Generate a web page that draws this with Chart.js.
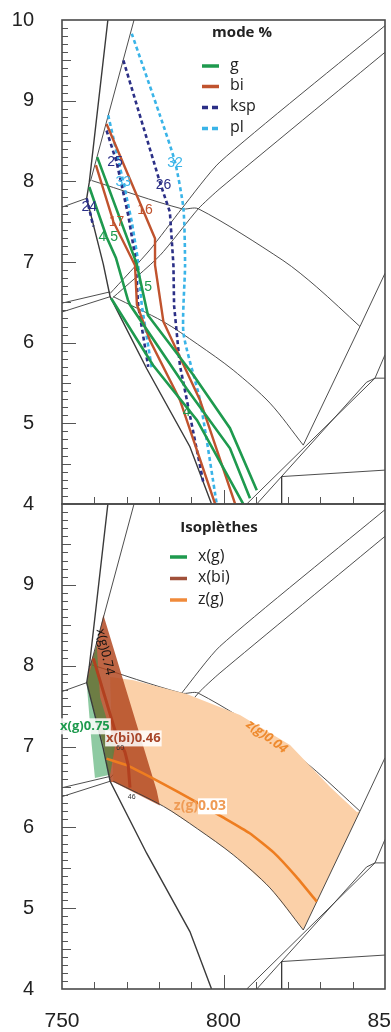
<!DOCTYPE html>
<html>
<head>
<meta charset="utf-8">
<script src="https://cdn.jsdelivr.net/npm/chart.js@4.4.1/dist/chart.umd.min.js"></script>
<style>
html, body { margin: 0; padding: 0; background: #fff; }
#wrap { position: relative; width: 391px; height: 1032px; overflow: hidden; }
#boxTop { position: absolute; left: 0; top: 0; width: 391px; height: 525px; }
#boxBot { position: absolute; left: 0; top: 494px; width: 391px; height: 538px; }
</style>
</head>
<body>
<div id="wrap">
  <div id="boxTop"><canvas id="chartTop"></canvas></div>
  <div id="boxBot"><canvas id="chartBot"></canvas></div>
</div>
<script>
// axes
const T_MIN = 750, T_MAX = 850;
const P_MIN = 4, P_MAX = 10;
const xTickLabels = [750, 800, 850];
const xMinorTicks = [760, 770, 780, 790, 800, 810, 820, 830, 840];

// phase boundaries  [T, P]
const bndA = [[764.2, 10], [758.45, 7.99], [757.65, 7.79], [762.8, 6.97], [764.9, 6.57], [776.2, 5.68], [789.6, 4.71], [796.3, 4.0]];
const bndB = [[772.3, 10], [758.8, 8.0]];
const bndC = [[759.2, 8.01], [787.05, 7.66], [792.2, 7.66], [818.4, 7.02], [828.85, 6.69], [842.25, 6.2]];
const bndD = [[750, 7.68], [757.65, 7.79]];
const bndE1 = [[850, 9.93], [798.9, 8.24], [787.05, 7.66], [777.2, 7.15], [764.9, 6.61]];
const bndE2 = [[850, 9.6], [798.9, 7.91], [792.2, 7.66], [780.3, 7.08], [765.8, 6.56]];
const bndF = [[850, 6.86], [842.25, 6.2], [824.7, 4.73]];
const bndG = [[765.9, 6.57], [781.4, 6.26], [792.0, 5.98], [803.0, 5.66], [814.4, 5.25], [824.7, 4.73]];
const bndH1 = [[850, 5.85], [846.9, 5.56], [807.2, 4.0]];
const bndH2 = [[850, 5.56], [846.9, 5.56], [844.3, 5.51], [810.3, 4.0]];
const bndI = [[850, 4.42], [818, 4.34], [818, 4.0]];
const bndL1 = [[750, 6.49], [764.9, 6.63]];
const bndL2 = [[750, 6.38], [764.9, 6.57]];

// mode % isopleths (top panel)
const gIso4 = [[765.2, 6.55], [778.2, 5.72], [791.8, 5.04], [806.1, 4.0]];
const gIso45 = [[758.45, 7.93], [763.8, 7.31], [766.7, 7.05], [770.4, 6.53], [771.05, 6.47], [788.6, 5.43], [802.0, 4.69], [808.2, 4.07]];
const gIso5 = [[760.9, 8.30], [773.1, 6.98], [776.6, 6.34], [790.65, 5.60], [802.0, 4.94], [810.3, 4.17]];
const biIso17 = [[760.5, 8.20], [765.9, 7.50], [772.6, 6.96], [773.2, 6.47], [777.2, 6.03], [786.5, 5.29], [797.4, 4.0]];
const biIso16 = [[763.8, 8.71], [778.8, 7.29], [778.8, 6.96], [781.4, 6.26], [792.7, 5.29], [803.6, 4.0]];
const kspIso24 = [[757.65, 7.79], [759.7, 7.44]];
const kspIso25 = [[763.8, 8.63], [766.9, 8.24], [770.5, 7.58], [772.6, 7.08], [773.6, 6.46], [776.7, 5.70]];
const kspIso26 = [[769.0, 9.50], [780.3, 7.99], [783.4, 7.62], [784.5, 6.96], [784.7, 6.46], [786.5, 5.72], [793.7, 4.28]];
const plIso33 = [[764.3, 8.82], [769.0, 7.99], [771.6, 7.50], [773.3, 7.08], [774.7, 6.46], [777.8, 5.68]];
const plIso32 = [[771.6, 9.83], [780.3, 8.82], [785.0, 8.24], [787.6, 7.66], [788.1, 6.96], [787.6, 6.12], [792.7, 5.29], [797.9, 4.0]];
const modeLabels = [
  ['25', 766.4, 8.24, 'ksp'], ['33', 769.0, 7.99, 'pl'], ['26', 781.4, 7.95, 'ksp'], ['32', 785.0, 8.22, 'pl'],
  ['24', 758.45, 7.68, 'ksp'], ['17', 766.9, 7.50, 'bi'], ['16', 775.7, 7.64, 'bi'], ['4.5', 764.3, 7.31, 'g'],
  ['5', 776.7, 6.69, 'g'], ['4', 788.6, 5.14, 'g']
];

// compositional isopleths (bottom panel)
const xgArea = [[760.74, 8.26], [757.65, 7.78], [759.2, 7.02], [760.2, 6.61], [764.9, 6.65], [766.4, 7.0], [761.8, 7.61], [760.74, 8.26]];
const xbiArea = [[762.8, 8.63], [779.3, 6.46], [780.3, 6.27], [765.9, 6.56], [764.9, 6.56], [762.8, 7.02], [757.65, 7.78], [758.45, 7.99], [760.7, 8.25], [762.8, 8.63]];
const zgArea = [[764.9, 7.86], [772.1, 7.82], [788.6, 7.65], [805.1, 7.39], [820.6, 7.02], [833.0, 6.50], [841.3, 6.19], [842.25, 6.2],
  [824.7, 4.73], [814.4, 5.25], [803.0, 5.66], [792.0, 5.98], [781.4, 6.26], [765.9, 6.57], [764.9, 7.86]];
const xbiLine = [[759.7, 8.09], [766.4, 7.20], [769.5, 6.93], [770.5, 6.77], [771.05, 6.49]];
const zgLine = [[763.8, 6.85], [770.0, 6.77], [780.3, 6.56], [791.2, 6.32], [800.0, 6.12], [808.0, 5.93], [815.5, 5.69], [822.5, 5.39], [828.9, 5.08]];
const isoLabels = [
  ['x(g)0.75', 757.1, 7.25, 'xg'], ['x(bi)0.46', 772.1, 7.10, 'xbi'], ['x(g)0.74', 763.3, 8.17, 'xg74'],
  ['z(g)0.04', 813.4, 7.12, 'zg04'], ['z(g)0.03', 792.7, 6.26, 'zg03'], ['60', 768.0, 6.98, 'tiny'], ['46', 771.6, 6.38, 'tiny']
];

const COL = { g: '#1e9a4e', bi: '#c0532e', ksp: '#2b2f86', pl: '#3ab4e8', bnd: '#3a3a3a' };

function toXY(pts) {
    return pts.map(p => ({ x: p[0], y: p[1] }));
}

function ligne(pts, color, width, dash, order, tension) {
    return {
        data: toXY(pts), showLine: true, borderColor: color, borderWidth: width,
        borderDash: dash || [], pointRadius: 0, fill: false, order: order, tension: tension || 0
    };
}

function zone(pts, color, order) {
    return {
        data: toXY(pts), showLine: true, borderWidth: 0, borderColor: 'rgba(0,0,0,0)',
        backgroundColor: color, pointRadius: 0, fill: 'shape', order: order, tension: 0
    };
}

// =========================
// frame, inner ticks, texts
// =========================
const cadre = {
    id: 'cadre',
    afterDatasetsDraw(chart, args, opts) {
        const { ctx, chartArea: a, scales: { x, y } } = chart;
        ctx.save();
        ctx.strokeStyle = '#555';
        ctx.lineWidth = 1;
        for (let i = P_MIN * 10 + 1; i < P_MAX * 10; i++) {
            const py = Math.round(y.getPixelForValue(i / 10)) + 0.5;
            const len = i % 10 === 0 ? 14 : (i % 5 === 0 ? 9 : 6);
            ctx.beginPath();
            ctx.moveTo(a.left, py);
            ctx.lineTo(a.left + len, py);
            ctx.stroke();
        }
        xMinorTicks.forEach(v => {
            const px = Math.round(x.getPixelForValue(v)) + 0.5;
            const len = v % 50 === 0 ? 14 : 7;
            ctx.beginPath();
            ctx.moveTo(px, a.bottom);
            ctx.lineTo(px, a.bottom - len);
            ctx.stroke();
        });
        ctx.strokeStyle = '#4a4a4a';
        ctx.lineWidth = 1.6;
        ctx.strokeRect(a.left, a.top, a.right - a.left, a.bottom - a.top);
        ctx.restore();
    },
    afterDraw(chart, args, opts) {
        const { ctx, chartArea: a, scales: { x, y } } = chart;
        ctx.save();
        (opts.notes || []).forEach(n => opts.drawNote(ctx, n, x.getPixelForValue(n[1]), y.getPixelForValue(n[2])));
        if (opts.legend) opts.legend(ctx, a);
        if (opts.xLabels) {
            ctx.fillStyle = '#222';
            ctx.font = '21px "Liberation Sans", Arial, sans-serif';
            ctx.textAlign = 'center';
            ctx.textBaseline = 'middle';
            xTickLabels.forEach(v => ctx.fillText(String(v), x.getPixelForValue(v), a.bottom + 32));
        }
        ctx.restore();
    }
};

function dessinerModeLabel(ctx, n, px, py) {
    ctx.font = '14px "Liberation Sans", Arial, sans-serif';
    ctx.fillStyle = COL[n[3]];
    ctx.textAlign = 'center';
    ctx.textBaseline = 'middle';
    ctx.fillText(n[0], px, py);
}

function dessinerIsoLabel(ctx, n, px, py) {
    const kind = n[3];
    ctx.textAlign = 'center';
    ctx.textBaseline = 'middle';
    if (kind === 'xg' || kind === 'xbi') {
        ctx.font = 'bold 13px "Open Sans", "Liberation Sans", sans-serif';
        const w = ctx.measureText(n[0]).width;
        ctx.fillStyle = 'rgba(255,255,255,0.85)';
        ctx.fillRect(px - w / 2 - 1, py - 8, w + 2, 16);
        ctx.fillStyle = kind === 'xg' ? '#1e9a4e' : '#a8462a';
        ctx.fillText(n[0], px, py);
    } else if (kind === 'xg74') {
        ctx.translate(px, py);
        ctx.rotate(78 * Math.PI / 180);
        ctx.font = '13px "Open Sans", "Liberation Sans", sans-serif';
        ctx.fillStyle = '#111';
        ctx.fillText(n[0], 0, 0);
        ctx.setTransform(1, 0, 0, 1, 0, 0);
    } else if (kind === 'zg04') {
        ctx.translate(px, py);
        ctx.rotate(36 * Math.PI / 180);
        ctx.font = 'bold italic 13px "Open Sans", "Liberation Sans", sans-serif';
        ctx.fillStyle = '#ee8a2e';
        ctx.fillText(n[0], 0, 0);
        ctx.setTransform(1, 0, 0, 1, 0, 0);
    } else if (kind === 'zg03') {
        ctx.font = 'bold 14px "Open Sans", "Liberation Sans", sans-serif';
        const w = ctx.measureText(n[0]).width;
        const w1 = ctx.measureText('z(g)').width;
        ctx.fillStyle = '#fff';
        ctx.fillRect(px - w / 2 + w1, py - 8, w - w1 + 1, 16);
        ctx.fillStyle = '#ef9b55';
        ctx.fillText(n[0], px, py);
    } else {
        ctx.font = '7px "Liberation Sans", Arial, sans-serif';
        ctx.fillStyle = '#333';
        ctx.fillText(n[0], px, py);
    }
}

function legendeItem(ctx, x0, yy, color, dashed, text, font) {
    ctx.strokeStyle = color;
    ctx.lineWidth = 3.5;
    ctx.setLineDash(dashed ? [6, 4] : []);
    ctx.beginPath();
    ctx.moveTo(x0, yy);
    ctx.lineTo(x0 + 17, yy);
    ctx.stroke();
    ctx.setLineDash([]);
    ctx.fillStyle = '#222';
    ctx.font = font;
    ctx.textAlign = 'left';
    ctx.textBaseline = 'middle';
    ctx.fillText(text, x0 + 28, yy - 1);
}

function legendeHaut(ctx, a) {
    ctx.fillStyle = '#222';
    ctx.font = 'bold 15px "Open Sans", "Liberation Sans", sans-serif';
    ctx.textAlign = 'center';
    ctx.textBaseline = 'middle';
    ctx.fillText('mode %', 242, 33);
    const f = '16px "Open Sans", "Liberation Sans", sans-serif';
    legendeItem(ctx, 202, 66, COL.g, false, 'g', f);
    legendeItem(ctx, 202, 86.5, COL.bi, false, 'bi', f);
    legendeItem(ctx, 202, 107.5, COL.ksp, true, 'ksp', f);
    legendeItem(ctx, 202, 128.5, COL.pl, true, 'pl', f);
}

function legendeBas(ctx, a) {
    ctx.fillStyle = '#222';
    ctx.font = 'bold 15px "Open Sans", "Liberation Sans", sans-serif';
    ctx.textAlign = 'center';
    ctx.textBaseline = 'middle';
    ctx.fillText('Isoplèthes', 219, 528 - 494);
    const f = '16px "Open Sans", "Liberation Sans", sans-serif';
    legendeItem(ctx, 170, 557 - 494, '#1e9a4e', false, 'x(g)', f);
    legendeItem(ctx, 170, 578.5 - 494, '#a0503a', false, 'x(bi)', f);
    legendeItem(ctx, 170, 600 - 494, '#f08a3a', false, 'z(g)', f);
}

function echelles(hideTop) {
    return {
        x: {
            type: 'linear', min: T_MIN, max: T_MAX, display: false
        },
        y: {
            type: 'linear', min: P_MIN, max: P_MAX,
            afterFit: s => { s.width = 62; s.paddingTop = 0; s.paddingBottom = 0; },
            grid: { display: false, drawTicks: false },
            border: { display: false },
            ticks: {
                stepSize: 1, padding: 28, color: '#222',
                font: { family: '"Liberation Sans", Arial, sans-serif', size: 20 },
                callback: v => (hideTop && v === P_MAX) ? '' : String(v)
            }
        }
    };
}

function boundaries(order, list) {
    return list.map(b => ligne(b[0], COL.bnd, b[1], [], order, b[2]));
}

// =========================
// TOP PANEL
// =========================
const topSets = [
    ligne(gIso4, COL.g, 2.6, [], 1),
    ligne(gIso45, COL.g, 2.6, [], 1),
    ligne(gIso5, COL.g, 2.6, [], 1),
    ligne(biIso17, COL.bi, 2.4, [], 1),
    ligne(biIso16, COL.bi, 2.4, [], 1),
    ligne(kspIso24, COL.ksp, 2.6, [4, 3], 1),
    ligne(kspIso25, COL.ksp, 2.6, [4, 3], 1),
    ligne(kspIso26, COL.ksp, 2.6, [4, 3], 1),
    ligne(plIso33, COL.pl, 2.6, [4, 3], 1),
    ligne(plIso32, COL.pl, 2.6, [4, 3], 1, 0.2)
].concat(boundaries(5, [
    [bndA, 1.4], [bndB, 0.9], [bndC, 0.9, 0.3], [bndD, 0.9], [bndE1, 0.9, 0.2], [bndE2, 0.9, 0.2],
    [bndF, 0.9], [bndG, 0.9, 0.3], [bndH1, 0.9], [bndH2, 0.9], [bndI, 0.9], [bndL1, 0.9], [bndL2, 0.9]
]));

new Chart(document.getElementById('chartTop'), {
    type: 'scatter',
    data: { datasets: topSets },
    options: {
        responsive: true, maintainAspectRatio: false, animation: false,
        layout: { padding: { top: 20, right: 6, bottom: 21, left: 0 } },
        scales: echelles(false),
        plugins: {
            legend: { display: false }, tooltip: { enabled: false },
            cadre: { notes: modeLabels, drawNote: dessinerModeLabel, legend: legendeHaut, xLabels: false }
        },
        events: []
    },
    plugins: [cadre]
});

// =========================
// BOTTOM PANEL
// =========================
const botSets = [
    ligne(xbiLine, '#b2401f', 3, [], 0),
    ligne(zgLine, '#ee7d20', 2.6, [], 0, 0.15)
].concat(boundaries(1, [
    [bndA, 1.4], [bndB, 0.9], [bndD, 0.9], [bndF, 0.9], [bndG, 0.9, 0.3],
    [bndH1, 0.9], [bndH2, 0.9], [bndI, 0.9], [bndL1, 0.9], [bndL2, 0.9]
])).concat([
    zone(xgArea, 'rgba(30,150,70,0.5)', 3),
    zone(xbiArea, 'rgba(178,72,32,0.84)', 4),
    zone(zgArea, '#fbd0a8', 5)
]).concat(boundaries(6, [[bndC, 0.9, 0.3], [bndE1, 0.9, 0.2], [bndE2, 0.9, 0.2]]));

new Chart(document.getElementById('chartBot'), {
    type: 'scatter',
    data: { datasets: botSets },
    options: {
        responsive: true, maintainAspectRatio: false, animation: false,
        layout: { padding: { top: 10, right: 6, bottom: 43, left: 0 } },
        scales: echelles(true),
        plugins: {
            legend: { display: false }, tooltip: { enabled: false },
            cadre: { notes: isoLabels, drawNote: dessinerIsoLabel, legend: legendeBas, xLabels: true }
        },
        events: []
    },
    plugins: [cadre]
});
</script>
</body>
</html>
